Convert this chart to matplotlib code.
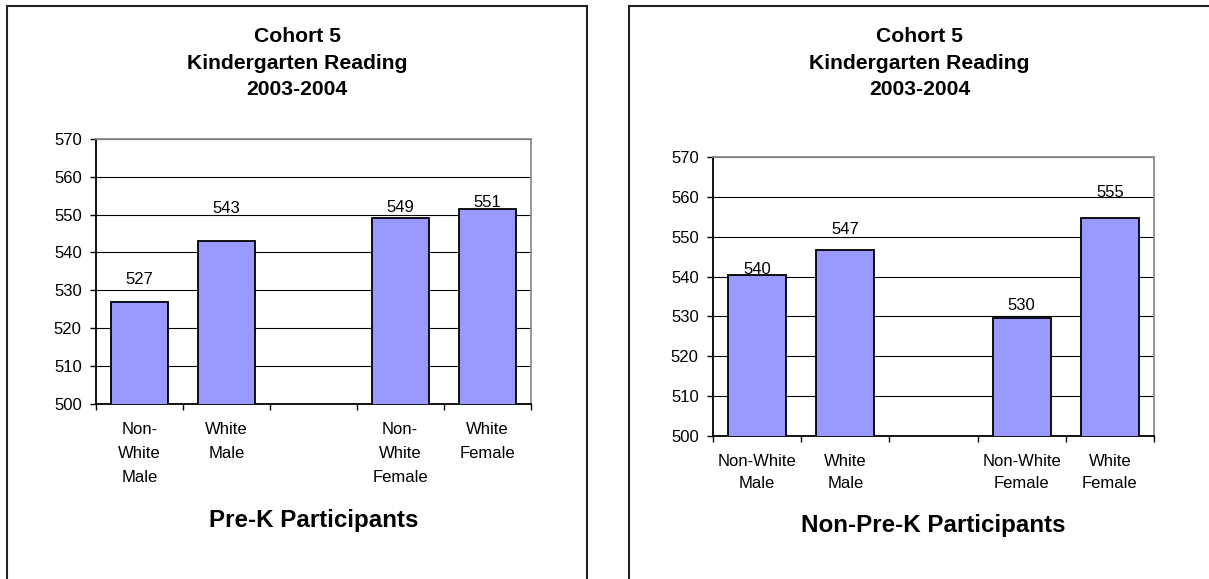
import numpy as np
import matplotlib
matplotlib.use("Agg")
import matplotlib.pyplot as plt
from matplotlib.patches import Rectangle

plt.rcParams["font.family"] = ["Liberation Sans", "DejaVu Sans"]

# ---- data ----
categories_prek = ["Non-\nWhite\nMale", "White\nMale", "", "Non-\nWhite\nFemale", "White\nFemale"]
categories_nonprek = ["Non-White\nMale", "White\nMale", "", "Non-White\nFemale", "White\nFemale"]
scores_prek = [526.9, 543.0, np.nan, 549.1, 551.4]
scores_nonprek = [540.3, 546.6, np.nan, 529.6, 554.7]
y_ticks = [500, 510, 520, 530, 540, 550, 560, 570]
title_text = "Cohort 5\nKindergarten Reading\n2003-2004"
group_prek = "Pre-K Participants"
group_nonprek = "Non-Pre-K Participants"

# ---- styling ----
W, H = 1209, 579
BAR_COLOR = "#9999FF"
label_lift_prek = [22, 33, 10, 7]      # pixels between bar top and value label centre
label_lift_nonprek = [6, 21, 13, 25]

fig = plt.figure(figsize=(W / 100, H / 100), dpi=100)


def fx(px):
    return px / W


def fy(py):
    return 1 - py / H


def panel_frame(x0, x1, y0):
    rect = Rectangle((fx(x0), fy(H + 20)), fx(x1 - x0), fy(y0) - fy(H + 20),
                     transform=fig.transFigure, fill=False,
                     edgecolor="#222222", linewidth=1.5, clip_on=False)
    fig.add_artist(rect)


def draw_panel(box, cats, vals, lifts, group, title_x, label_y, cat_pad, cat_ls):
    x0, y0, x1, y1 = box
    ax = fig.add_axes([fx(x0), fy(y1), fx(x1 - x0), (y1 - y0) / H])
    pos = np.arange(len(cats))
    ax.bar(pos, vals, width=0.655, bottom=0, color=BAR_COLOR,
           edgecolor="black", linewidth=1.3, zorder=3)
    ax.set_xlim(-0.5, len(cats) - 0.5)
    ax.set_ylim(y_ticks[0], y_ticks[-1])
    ax.set_yticks(y_ticks)
    ax.set_yticklabels([str(t) for t in y_ticks], fontsize=12)
    ax.tick_params(axis="y", direction="out", length=4.5, width=1, pad=5.8)

    # boundary ticks between categories, labels centred in each slot
    ax.set_xticks(np.arange(-0.5, len(cats)))
    ax.set_xticklabels([])
    ax.tick_params(axis="x", which="major", direction="out", length=4.5, width=1)
    ax.set_xticks(pos, minor=True)
    ax.set_xticklabels(cats, minor=True, fontsize=12, linespacing=cat_ls)
    ax.tick_params(axis="x", which="minor", length=0, pad=cat_pad)

    ax.yaxis.grid(True, color="black", linewidth=0.8)
    ax.set_axisbelow(True)
    for side in ("left", "bottom"):
        ax.spines[side].set_color("black")
        ax.spines[side].set_linewidth(1.3)
    for side in ("top", "right"):
        ax.spines[side].set_color("#8c8c8c")
        ax.spines[side].set_linewidth(1.3)

    lift_iter = iter(lifts)
    for p, v in zip(pos, vals):
        if np.isnan(v):
            continue
        ax.annotate(f"{v:.0f}", xy=(p, v), xytext=(0, next(lift_iter)),
                    textcoords="offset pixels", ha="center", va="center",
                    fontsize=12, zorder=4)

    fig.text(fx(title_x), fy(63.3), title_text, ha="center", va="center",
             fontsize=15.2, fontweight="bold", linespacing=1.5)
    fig.text(fx((x0 + x1) / 2), fy(label_y), group, ha="center", va="center",
             fontsize=17.4, fontweight="bold")
    return ax


panel_frame(7, 587, 6)
panel_frame(629, 1212, 6)

draw_panel((96, 139, 530.5, 403.5), categories_prek, scores_prek, label_lift_prek,
           group_prek, 297, 520.5, 13.3, 1.76)
draw_panel((713, 157, 1154, 436), categories_nonprek, scores_nonprek, label_lift_nonprek,
           group_nonprek, 919.4, 525.5, 12.6, 1.66)

fig.savefig("out.png", dpi=100)
